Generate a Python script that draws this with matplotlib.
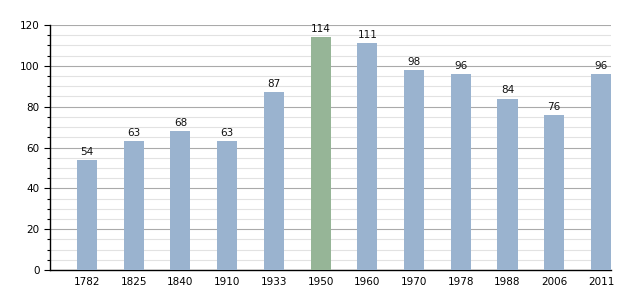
import numpy as np
import matplotlib.pyplot as plt
from matplotlib.ticker import MultipleLocator

years = ["1782", "1825", "1840", "1910", "1933", "1950", "1960", "1970", "1978", "1988", "2006", "2011"]
population = [54, 63, 68, 63, 87, 114, 111, 98, 96, 84, 76, 96]
highlight = "1950"

blue = "#9ab3cf"
green = "#96b597"

fig = plt.figure(figsize=(6.3, 3.0), dpi=100)
ax = fig.add_axes([50 / 630, 30 / 300, 561 / 630, 245 / 300])

x = np.arange(len(years))
colors = [green if y == highlight else blue for y in years]
ax.bar(x, population, width=0.43, color=colors, zorder=3)

for xi, v in zip(x, population):
    ax.text(xi, v + 1.5, str(v), ha="center", va="bottom", fontsize=7.5, color="#111111")

ax.set_xlim(-0.79, len(years) - 1 + 0.215)
ax.set_ylim(0, 120)
ax.set_xticks(x)
ax.set_xticklabels(years, fontsize=7.5)
ax.yaxis.set_major_locator(MultipleLocator(20))
ax.yaxis.set_minor_locator(MultipleLocator(5))
ax.tick_params(axis="y", labelsize=7.5, length=4, width=0.8)
ax.tick_params(axis="y", which="minor", length=2.5, width=0.8)
ax.tick_params(axis="x", length=0, pad=5)

ax.grid(axis="y", which="major", color="#aaaaaa", linewidth=0.8, zorder=0)
ax.grid(axis="y", which="minor", color="#e2e2e2", linewidth=0.8, zorder=0)

for s in ["top", "right"]:
    ax.spines[s].set_visible(False)
ax.spines["left"].set_linewidth(1.0)
ax.spines["bottom"].set_linewidth(1.0)

fig.savefig("out.png", dpi=100)
